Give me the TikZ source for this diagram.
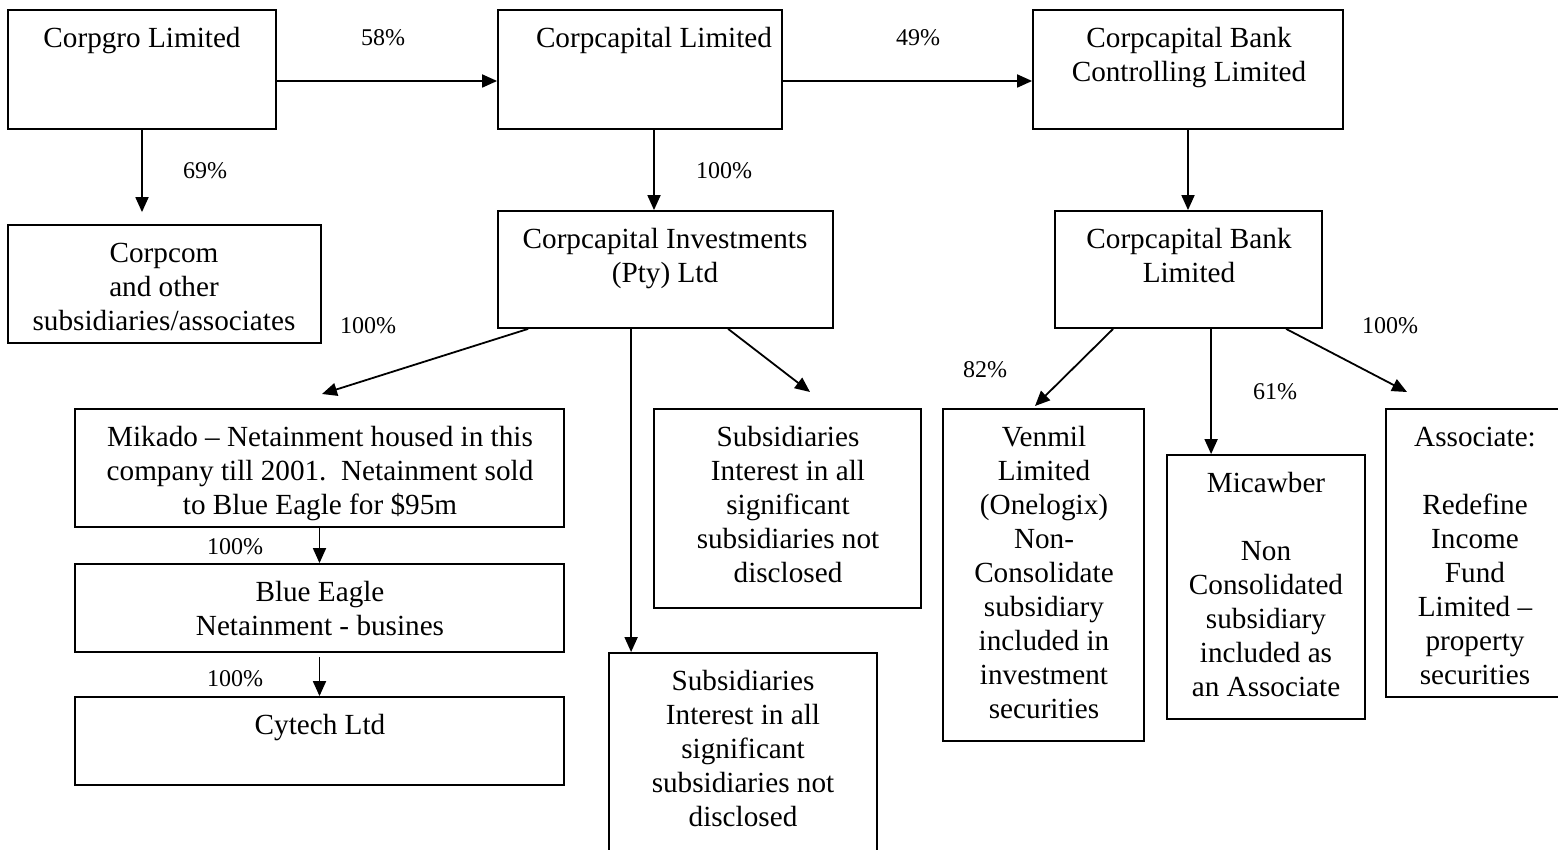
\documentclass[tikz,border=0pt]{standalone}
\usepackage{fontspec}
\setmainfont{Liberation Serif}
\usetikzlibrary{arrows.meta,fit,calc}
\tikzset{
  box/.style={draw, line width=0.9pt, inner sep=0pt, rectangle},
  txt/.style={anchor=north, align=center, inner sep=0pt, font=\fontsize{14.6}{17}\selectfont},
  pct/.style={inner sep=0pt, font=\fontsize{12}{14}\selectfont},
  arr/.style={line width=0.9pt, -{Triangle[length=7.5pt,width=6.5pt]}}
}
\begin{document}
\begin{tikzpicture}[x=0.5pt,y=-0.5pt]
\useasboundingbox (0,0) rectangle (1558,850);
\clip (0,0) rectangle (1558,850);
% boxes
\node[box, fit={(8,10) (276,129)}] (corpgro) {};
\node[box, fit={(498,10) (782,129)}] (corpcap) {};
\node[box, fit={(1033,10) (1343,129)}] (bankctl) {};
\node[box, fit={(8,225) (321,343)}] (corpcom) {};
\node[box, fit={(498,211) (833,328)}] (cinv) {};
\node[box, fit={(1055,211) (1322,328)}] (bankltd) {};
\node[box, fit={(75,409) (564,527)}] (mikado) {};
\node[box, fit={(75,564) (564,652)}] (blue) {};
\node[box, fit={(75,697) (564,785)}] (cytech) {};
\node[box, fit={(654,409) (921,608)}] (subR) {};
\node[box, fit={(609,653) (877,880)}] (subB) {};
\node[box, fit={(943,409) (1144,741)}] (venmil) {};
\node[box, fit={(1167,455) (1365,719)}] (micawber) {};
\node[box, fit={(1386,409) (1580,697)}] (assoc) {};
% texts
\node[txt] (tcorpgro) at (142,23) {\strut Corpgro Limited};
\node[txt] (tcorpcap) at (654,23) {\strut Corpcapital Limited};
\node[txt] (tbankctl) at (1189,23) {\strut Corpcapital Bank\\Controlling Limited};
\node[txt] (tcorpcom) at (164,238) {\strut Corpcom\\and other\\subsidiaries/associates};
\node[txt] (tcinv) at (665,224) {\strut Corpcapital Investments\\(Pty) Ltd};
\node[txt] (tbankltd) at (1189,224) {\strut Corpcapital Bank\\Limited};
\node[txt] (tmikado) at (320,422) {\strut Mikado -- Netainment housed in this\\company till 2001.\ \ Netainment sold\\to Blue Eagle for \$95m};
\node[txt] (tblue) at (320,577) {\strut Blue Eagle\\Netainment - busines};
\node[txt] (tcytech) at (320,710) {\strut Cytech Ltd};
\node[txt] (tsubR) at (788,422) {\strut Subsidiaries\\Interest in all\\significant\\subsidiaries not\\disclosed};
\node[txt] (tsubB) at (743,666) {\strut Subsidiaries\\Interest in all\\significant\\subsidiaries not\\disclosed};
\node[txt] (tvenmil) at (1044,422) {\strut Venmil\\Limited\\(Onelogix)\\Non-\\Consolidate\\subsidiary\\included in\\investment\\securities};
\node[txt] (tmicawber) at (1266,468) {\strut Micawber\\[17pt]Non\\Consolidated\\subsidiary\\included as\\an Associate};
\node[txt] (tassoc) at (1475,422) {\strut Associate:\\[17pt]Redefine\\Income\\Fund\\Limited --\\property\\securities};
% percentage labels
\node[pct] (p58) at (383,38) {58\%};
\node[pct] (p49) at (918,38) {49\%};
\node[pct] (p69) at (205,171) {69\%};
\node[pct] (p100a) at (724,171) {100\%};
\node[pct] (p100b) at (368,326) {100\%};
\node[pct] (p100c) at (235,547) {100\%};
\node[pct] (p100d) at (235,679) {100\%};
\node[pct] (p82) at (985,370) {82\%};
\node[pct] (p61) at (1275,392) {61\%};
\node[pct] (p100e) at (1390,326) {100\%};
% free ends
\coordinate (eMik) at (322,394);
\coordinate (eSubR) at (810,392);
\coordinate (eVen) at (1035,406);
\coordinate (eAss) at (1407,392);
% connectors
\draw[arr] ([yshift=-5.75pt]corpgro.east) -- ([yshift=-5.75pt]corpcap.west);
\draw[arr] ([yshift=-5.75pt]corpcap.east) -- ([yshift=-5.75pt]bankctl.west);
\draw[arr, shorten >=6pt] (corpgro.south) -- (corpgro.south |- corpcom.north);
\draw[arr] (corpcap.south -| tcorpcap) -- (cinv.north -| tcorpcap);
\draw[arr] (bankctl.south) -- (bankltd.north -| bankctl.south);
\draw[arr] ([xshift=15.5pt]cinv.south west) -- (eMik);
\draw[arr] ([xshift=67pt]cinv.south west) -- ([xshift=11.5pt]subB.north west);
\draw[arr] ([xshift=115.5pt]cinv.south west) -- (eSubR);
\draw[arr] (mikado.south) -- (blue.north);
\draw[arr, shorten <=2pt] (blue.south) -- (cytech.north);
\draw[arr] ([xshift=29.5pt]bankltd.south west) -- (eVen);
\draw[arr] ([xshift=78.5pt]bankltd.south west) -- ([xshift=22.5pt]micawber.north west);
\draw[arr] ([xshift=116pt]bankltd.south west) -- (eAss);
\end{tikzpicture}
\end{document}
